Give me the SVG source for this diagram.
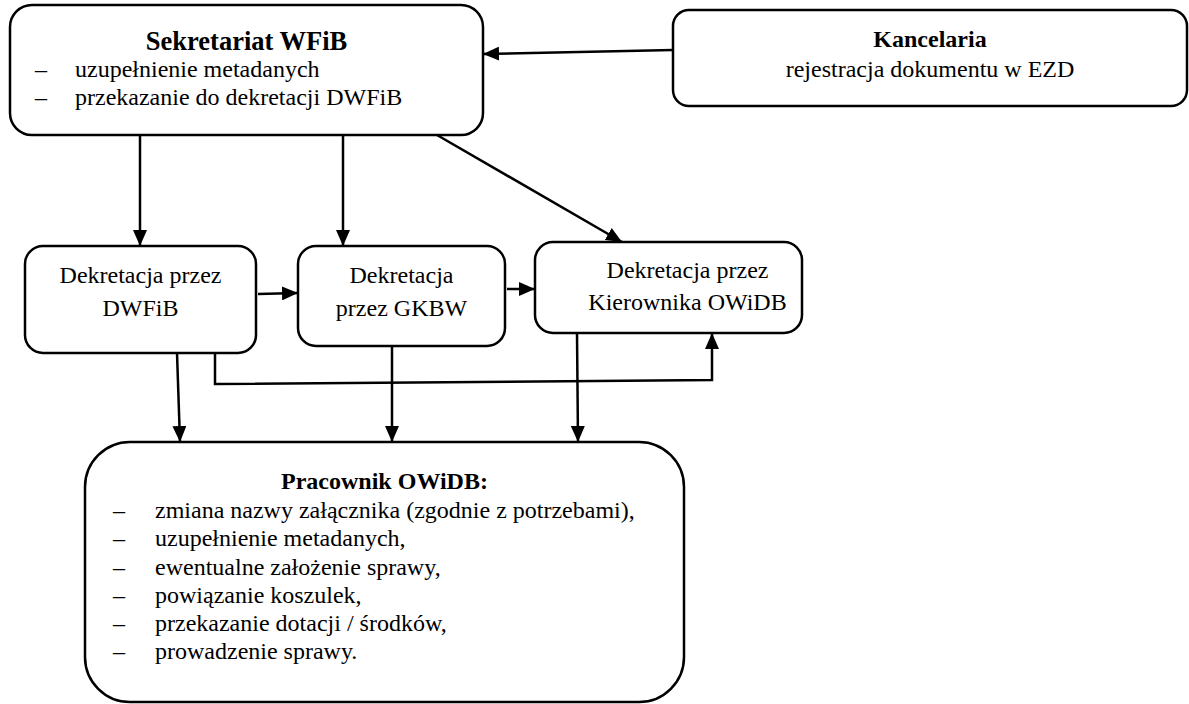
<svg xmlns="http://www.w3.org/2000/svg" width="1189" height="704" viewBox="0 0 1189 704">
  <defs>
    <marker id="ah" viewBox="0 0 16 14" refX="16" refY="7" markerWidth="16" markerHeight="14" markerUnits="userSpaceOnUse" orient="auto">
      <path d="M0,0 L16,7 L0,14 z" fill="#000"/>
    </marker>
  </defs>
  <style>
    .box { fill: #fff; stroke: #000; stroke-width: 2.5; }
    .t { font-family: "Liberation Serif", "Times New Roman", serif; font-size: 24px; fill: #000; }
    .c { text-anchor: middle; }
    .b { font-weight: bold; }
    .edge { fill: none; stroke: #000; stroke-width: 2.5; marker-end: url(#ah); }
  </style>
  <rect width="1189" height="704" fill="#fff"/>

  <g id="sekretariat">
    <rect class="box" x="10" y="5" width="473" height="130" rx="22"/>
    <text class="t b c" x="246.5" y="50" style="font-size:26.5px">Sekretariat WFiB</text>
    <text class="t" x="35" y="77">–</text>
    <text class="t" x="75" y="77">uzupełnienie metadanych</text>
    <text class="t" x="35" y="105">–</text>
    <text class="t" x="75" y="105">przekazanie do dekretacji DWFiB</text>
  </g>

  <g id="kancelaria">
    <rect class="box" x="673" y="10" width="514" height="96" rx="16"/>
    <text class="t b c" x="930" y="47">Kancelaria</text>
    <text class="t c" x="930" y="77">rejestracja dokumentu w EZD</text>
  </g>

  <g id="dek-dwfib">
    <rect class="box" x="25" y="246" width="231" height="107" rx="18"/>
    <text class="t c" x="140.5" y="283">Dekretacja przez</text>
    <text class="t c" x="140.5" y="316">DWFiB</text>
  </g>

  <g id="dek-gkbw">
    <rect class="box" x="298" y="246" width="207" height="100" rx="18"/>
    <text class="t c" x="401.5" y="283">Dekretacja</text>
    <text class="t c" x="401.5" y="316">przez GKBW</text>
  </g>

  <g id="dek-kierownik">
    <rect class="box" x="535" y="242" width="267" height="91" rx="18"/>
    <text class="t c" x="687.5" y="278">Dekretacja przez</text>
    <text class="t c" x="687.5" y="310">Kierownika OWiDB</text>
  </g>

  <g id="pracownik">
    <rect class="box" x="85" y="442" width="599" height="260" rx="45"/>
    <text class="t b c" x="384.5" y="489">Pracownik OWiDB:</text>
    <text class="t" x="113" y="518">–</text>
    <text class="t" x="155" y="518">zmiana nazwy załącznika (zgodnie z potrzebami),</text>
    <text class="t" x="113" y="546">–</text>
    <text class="t" x="155" y="546">uzupełnienie metadanych,</text>
    <text class="t" x="113" y="575">–</text>
    <text class="t" x="155" y="575">ewentualne założenie sprawy,</text>
    <text class="t" x="113" y="603">–</text>
    <text class="t" x="155" y="603">powiązanie koszulek,</text>
    <text class="t" x="113" y="631">–</text>
    <text class="t" x="155" y="631">przekazanie dotacji / środków,</text>
    <text class="t" x="113" y="659">–</text>
    <text class="t" x="155" y="659">prowadzenie sprawy.</text>
  </g>

  <g id="connectors">
    <!-- Kancelaria to Sekretariat -->
    <path class="edge" d="M673,50 L483,54"/>
    <!-- Sekretariat to the three decree boxes -->
    <path class="edge" d="M140,135 L140,246"/>
    <path class="edge" d="M343,135 L343,246"/>
    <path class="edge" d="M437,135 L622,242"/>
    <!-- chain between decree boxes -->
    <path class="edge" d="M258,294 L298,293"/>
    <path class="edge" d="M507,289 L535,289"/>
    <!-- DWFiB direct to Kierownik -->
    <path class="edge" d="M215,353 L215,384 L712,380 L712,333"/>
    <!-- decree boxes to Pracownik -->
    <path class="edge" d="M177,353 L180,442"/>
    <path class="edge" d="M392,346 L392,442"/>
    <path class="edge" d="M577,333 L578,442"/>
  </g>
</svg>
